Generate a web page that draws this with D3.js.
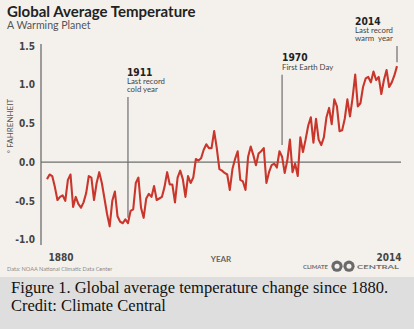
<!DOCTYPE html>
<html>
<head>
<meta charset="utf-8">
<script src="https://cdn.jsdelivr.net/npm/d3@7"></script>
<style>
  html, body { margin: 0; padding: 0; background: #dedede; }
  svg { display: block; }
  .num { font-family: "Liberation Sans Narrow", "DejaVu Sans Condensed", sans-serif; font-weight: bold; }
  .sans { font-family: Lato, "Open Sans", sans-serif; }
</style>
</head>
<body>
<svg id="chart"></svg>
<script>
const width = 414;
const height = 329;

// annual global temperature anomaly, °F (vs 20th century average)
const firstYear = 1880;
const anomalies = [
  -0.22, -0.16, -0.18, -0.32, -0.49, -0.45, -0.43, -0.50, -0.23, -0.16,
  -0.58, -0.45, -0.54, -0.59, -0.52, -0.40, -0.18, -0.20, -0.49, -0.27,
  -0.13, -0.27, -0.47, -0.67, -0.83, -0.50, -0.38, -0.70, -0.77, -0.79,
  -0.74, -0.79, -0.63, -0.61, -0.27, -0.20, -0.59, -0.72, -0.47, -0.41,
  -0.45, -0.31, -0.49, -0.47, -0.45, -0.32, -0.13, -0.29, -0.29, -0.52,
  -0.20, -0.11, -0.22, -0.45, -0.18, -0.27, -0.20, 0.04, 0.02, 0.05,
  0.16, 0.23, 0.18, 0.18, 0.40, 0.18, -0.09, -0.11, -0.14, -0.16,
  -0.36, -0.09, 0.04, 0.14, -0.23, -0.25, -0.36, 0.07, 0.20, 0.09,
  -0.04, 0.11, 0.14, 0.18, -0.27, -0.13, -0.04, -0.02, -0.07, 0.14,
  0.07, -0.14, 0.02, 0.29, -0.13, -0.02, -0.18, 0.32, 0.13, 0.29,
  0.47, 0.58, 0.25, 0.56, 0.29, 0.22, 0.32, 0.58, 0.70, 0.49,
  0.81, 0.72, 0.40, 0.41, 0.56, 0.81, 0.59, 0.83, 1.13, 0.72,
  0.76, 0.97, 1.08, 1.10, 1.03, 1.17, 1.06, 1.10, 0.88, 1.06,
  1.19, 0.97, 1.03, 1.12, 1.24
];
const yTicks = [1.5, 1.0, 0.5, 0.0, -0.5, -1.0];
const xTicks = [1880, 2014];

// callouts: year, bold label, text lines, leader top/bottom (°F), label shift in px
const callouts = [
  { year: 1911, head: "1911", lines: ["Last record", "cold year"], top: 0.84, bottom: -0.72, dx: -1 },
  { year: 1970, head: "1970", lines: ["First Earth Day"], top: 1.13, bottom: 0.22, dx: 0 },
  { year: 2014, head: "2014", lines: ["Last record", "warm  year"], top: 1.5, bottom: 1.29, dx: -42 },
];

const series = anomalies.map((v, i) => ({ year: firstYear + i, value: v }));

const svg = d3.select("#chart").attr("width", width).attr("height", height);

// cream chart panel + grey caption band
svg.append("rect").attr("width", width).attr("height", height).attr("fill", "#dedede");
svg.append("rect").attr("width", width).attr("height", 277).attr("fill", "#f4f1ec");

const x = d3.scaleLinear().domain([1880, 2014]).range([47, 397]);
const y = d3.scaleLinear().domain([-1, 1.5]).range([239.5, 46]);

// title block
svg.append("text").attr("class", "sans").attr("x", 7).attr("y", 17)
  .attr("font-size", 15).attr("font-weight", 700).attr("fill", "#222")
  .text("Global Average Temperature");
svg.append("text").attr("class", "sans").attr("x", 7).attr("y", 29)
  .attr("font-size", 10.6).attr("fill", "#555")
  .text("A Warming Planet");

// y axis
const yAxis = svg.append("g")
  .attr("transform", "translate(41,0)")
  .call(d3.axisLeft(y).tickValues(yTicks).tickSize(0).tickPadding(6)
    .tickFormat((d) => d3.format(".1f")(d).replace("\u2212", "-")))
  .call((g) => g.select(".domain").remove());
yAxis.selectAll("text").attr("class", "num").attr("font-size", 10).attr("fill", "#444");

svg.append("line")
  .attr("x1", 41).attr("x2", 41).attr("y1", 44).attr("y2", 245)
  .attr("stroke", "#6e6e6e").attr("stroke-width", 1.3);
svg.append("line")
  .attr("x1", 41).attr("x2", 401).attr("y1", y(0)).attr("y2", y(0))
  .attr("stroke", "#6e6e6e").attr("stroke-width", 1.3);

svg.append("text").attr("class", "sans")
  .attr("transform", "translate(13,126) rotate(-90)")
  .attr("text-anchor", "middle").attr("font-size", 8).attr("fill", "#555")
  .text("° FAHRENHEIT");

// x axis: only first and last year
const xAxis = svg.append("g")
  .attr("transform", "translate(0,246)")
  .call(d3.axisBottom(x).tickValues(xTicks).tickSize(0).tickPadding(8).tickFormat(d3.format("d")))
  .call((g) => g.select(".domain").remove());
xAxis.selectAll("text")
  .attr("class", "num").attr("font-size", 10).attr("fill", "#444")
  .attr("text-anchor", (d) => (d === 1880 ? "start" : "end"))
  .attr("dx", (d) => (d === 1880 ? 1 : 4));

svg.append("text").attr("class", "sans").attr("x", 221).attr("y", 262)
  .attr("text-anchor", "middle").attr("font-size", 8).attr("font-weight", 700)
  .attr("fill", "#666").text("YEAR");

// callout leaders and labels
const co = svg.append("g").selectAll("g").data(callouts).join("g");
co.append("line")
  .attr("x1", (d) => x(d.year)).attr("x2", (d) => x(d.year))
  .attr("y1", (d) => y(d.top)).attr("y2", (d) => y(d.bottom))
  .attr("stroke", "#6e6e6e").attr("stroke-width", 1.2);
co.append("text").attr("class", "num")
  .attr("x", (d) => x(d.year) + d.dx)
  .attr("y", (d) => y(d.top) - 5.5 - 7.8 * d.lines.length)
  .attr("font-size", 10.2).attr("fill", "#222").text((d) => d.head);
co.each(function (d) {
  d3.select(this).selectAll("text.line").data(d.lines).join("text")
    .attr("class", "line sans")
    .attr("x", x(d.year) + d.dx)
    .attr("y", (t, i) => y(d.top) - 5 - 7.8 * (d.lines.length - 1 - i))
    .attr("font-size", 7.8).attr("fill", "#444")
    .style("white-space", "pre")
    .text((t) => t);
});

// temperature line
svg.append("path")
  .datum(series)
  .attr("fill", "none")
  .attr("stroke", "#c9362c")
  .attr("stroke-width", 2.1)
  .attr("stroke-linejoin", "round")
  .attr("d", d3.line().x((d) => x(d.year)).y((d) => y(d.value)));

// source + logo
svg.append("text").attr("class", "sans").attr("x", 7).attr("y", 270.5)
  .attr("font-size", 5.6).attr("fill", "#8a8a8a")
  .text("Data: NOAA National Climatic Data Center");

const logo = svg.append("g").attr("class", "sans").attr("fill", "#707070")
  .attr("font-size", 6.2).attr("font-weight", 700);
logo.append("text").attr("x", 303).attr("y", 268.5)
  .attr("textLength", 25).attr("lengthAdjust", "spacingAndGlyphs").text("CLIMATE");
logo.append("text").attr("x", 357).attr("y", 268.5)
  .attr("textLength", 42).attr("lengthAdjust", "spacingAndGlyphs").text("CENTRAL");
[337, 349].forEach((cx) => {
  logo.append("circle").attr("cx", cx).attr("cy", 266.2).attr("r", 5.6).attr("fill", "#6a6a6a");
});
[337, 349].forEach((cx) => {
  logo.append("circle").attr("cx", cx).attr("cy", 266.2).attr("r", 2.5).attr("fill", "#f4f1ec");
});

// caption
const cap = svg.append("g").attr("font-family", "'Liberation Serif', 'Times New Roman', serif")
  .attr("font-size", 16.5).attr("fill", "#111");
cap.append("text").attr("x", 11).attr("y", 293).text("Figure 1. Global average temperature change since 1880.");
cap.append("text").attr("x", 11).attr("y", 311).text("Credit: Climate Central");
</script>
</body>
</html>
